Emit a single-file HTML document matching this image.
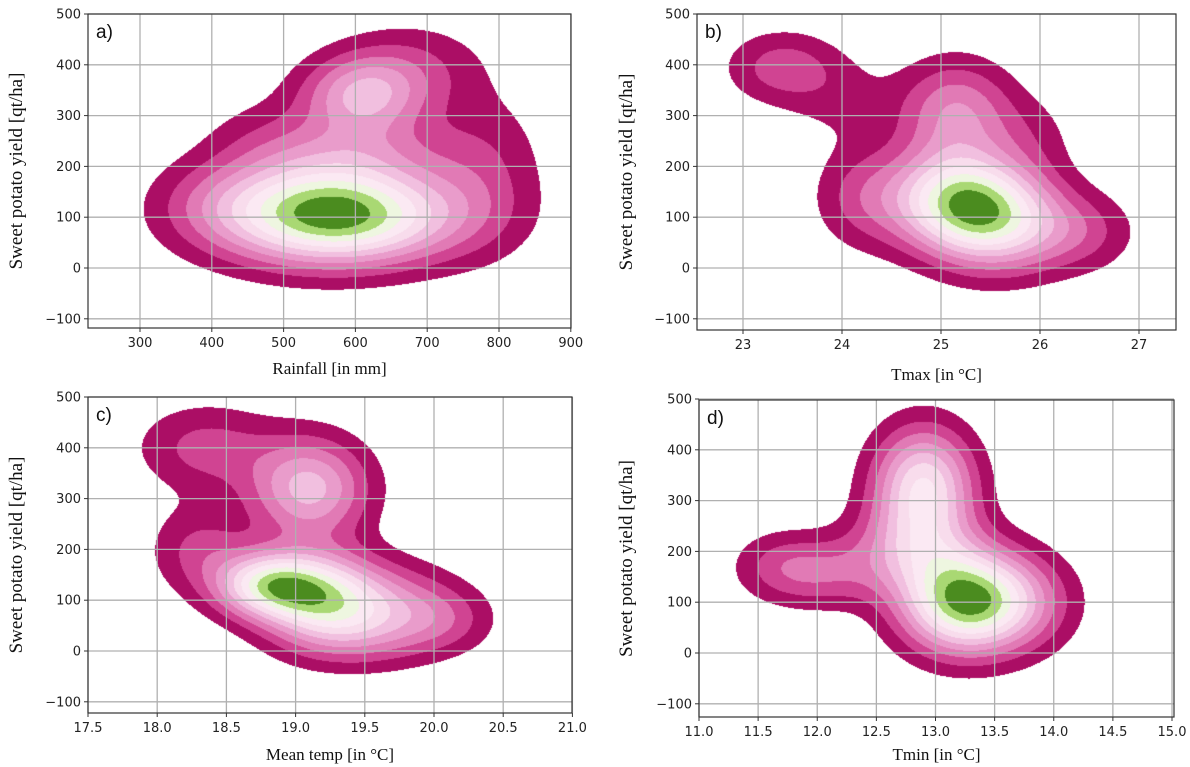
<!DOCTYPE html>
<html><head><meta charset="utf-8">
<style>
body{margin:0;background:#fff;width:1190px;height:767px;overflow:hidden;position:relative;font-family:"DejaVu Sans","Liberation Sans",sans-serif}
canvas{position:absolute}
svg{position:absolute;left:0;top:0}
</style></head><body>
<div id="wrap"></div>
<svg id="ov" width="1190" height="767"></svg>
<script>
// Panel a: Rainfall — KDE components
const aX=[530,620,400,780,610,600,680,470];
const aY=[110,100,130,200,340,230,400,260];
const aSX=[105,105,60,60,60,90,70,60];
const aSY=[70,65,60,110,55,50,60,60];
const aW=[1,0.8,0.15,0.25,0.72,0.35,0.25,0.15];
// Panel b: Tmax
const bX=[25.1,25.6,25.15,23.4,24.0,24.2,26.4,25.9];
const bY=[135,95,310,395,330,140,70,260];
const bSX=[0.45,0.45,0.4,0.4,0.4,0.35,0.4,0.35];
const bSY=[70,70,70,50,60,70,55,60];
const bW=[1,0.9,0.55,0.36,0.15,0.3,0.3,0.15];
// Panel c: Mean temp
const cX=[18.8,19.2,19.7,19.1,18.35,18.3,20.1,19.4];
const cY=[130,105,85,320,400,200,60,30];
const cSX=[0.27,0.3,0.35,0.3,0.35,0.25,0.25,0.4];
const cSY=[45,60,60,70,60,60,45,50];
const cW=[1,0.9,0.45,0.75,0.33,0.3,0.2,0.25];
// Panel d: Tmin
const dX=[13.15,13.55,12.9,12.8,12.0,11.65];
const dY=[105,100,330,210,160,180];
const dSX=[0.35,0.38,0.3,0.35,0.4,0.25];
const dSY=[72,68,80,60,50,45];
const dW=[1,0.8,1.0,0.45,0.42,0.13];
const yTicks=[500,400,300,200,100,0,-100];
const aTicks=[300,400,500,600,700,800,900];
const bTicks=[23,24,25,26,27];
const cTicks=[17.5,18.0,18.5,19.0,19.5,20.0,20.5,21.0];
const dTicks=[11.0,11.5,12.0,12.5,13.0,13.5,14.0,14.5,15.0];
const colors=["#ab0e65","#d04492","#e17ab5","#e99ccb","#f1bfdf","#f8dcec","#fbe9f3","#eef6e0","#a9d873","#4b8c1f"];

const panels=[
 {id:"a",L:88,R:571,T:14,B:328,x0:300,x0px:140,xs:0.718,y0:268,X:aX,Y:aY,SX:aSX,SY:aSY,W:aW,ticks:aTicks,fmt:v=>String(v),xl:"Rainfall [in mm]",xlY:374,ylX:22,lab:"a)"},
 {id:"b",L:697,R:1176,T:14,B:330,x0:23,x0px:743,xs:99,y0:268,X:bX,Y:bY,SX:bSX,SY:bSY,W:bW,ticks:bTicks,fmt:v=>String(v),xl:"Tmax [in \u00B0C]",xlY:380,ylX:632,lab:"b)"},
 {id:"c",L:88,R:572,T:397,B:713,x0:17.5,x0px:88,xs:138.4,y0:651,X:cX,Y:cY,SX:cSX,SY:cSY,W:cW,ticks:cTicks,fmt:v=>v.toFixed(1),xl:"Mean temp [in \u00B0C]",xlY:760,ylX:22,lab:"c)"},
 {id:"d",L:699,R:1174,T:400,B:717,x0:11,x0px:699,xs:118.25,y0:653,X:dX,Y:dY,SX:dSX,SY:dSY,W:dW,ticks:dTicks,fmt:v=>v.toFixed(1),xl:"Tmin [in \u00B0C]",xlY:760,ylX:632,lab:"d)"}
];
const ys=0.508;
const NS="http://www.w3.org/2000/svg";
const ov=document.getElementById('ov');
const wrap=document.getElementById('wrap');
function mk(tag,attrs,parent){const e=document.createElementNS(NS,tag);for(const k in attrs)e.setAttribute(k,attrs[k]);(parent||ov).appendChild(e);return e;}

panels.forEach(p=>{
  const xp=v=>p.x0px+(v-p.x0)*p.xs;
  const yp=v=>p.y0-v*ys;
  const xv=px=>p.x0+(px-p.x0px)/p.xs;
  const yv=py=>(p.y0-py)/ys;
  const w=p.R-p.L,h=p.B-p.T;
  const cv=document.createElement('canvas');
  cv.width=w;cv.height=h;cv.style.left=p.L+'px';cv.style.top=p.T+'px';
  
  
  wrap.appendChild(cv);
  const ctx=cv.getContext('2d');
  const dens=new Float32Array(w*h);let mx=0;
  for(let j=0;j<h;j++){const yy=yv(p.T+j+0.5);
    for(let i=0;i<w;i++){const xx=xv(p.L+i+0.5);let s=0;
      for(let k=0;k<p.X.length;k++){const dx=(xx-p.X[k])/p.SX[k],dy=(yy-p.Y[k])/p.SY[k];s+=p.W[k]*Math.exp(-0.5*(dx*dx+dy*dy));}
      dens[j*w+i]=s;if(s>mx)mx=s;}}
  const img=ctx.createImageData(w,h);
  const rgb=colors.map(c=>[parseInt(c.substr(1,2),16),parseInt(c.substr(3,2),16),parseInt(c.substr(5,2),16)]);
  for(let n=0;n<w*h;n++){const v=dens[n]/mx;const lvl=Math.floor(v*11)-1;
    if(lvl>=0){const c=rgb[Math.min(lvl,9)];img.data[n*4]=c[0];img.data[n*4+1]=c[1];img.data[n*4+2]=c[2];img.data[n*4+3]=255;}}
  ctx.putImageData(img,0,0);
  const g=mk('g',{});
  
  
  p.ticks.forEach(t=>{const x=xp(t);if(x>=p.L-0.5&&x<=p.R+0.5){
    mk('line',{x1:x,x2:x,y1:p.T,y2:p.B,stroke:'#b0b0b0','stroke-width':1.3},g);
    mk('line',{x1:x,x2:x,y1:p.B,y2:p.B+4,stroke:'#333','stroke-width':1});
    const tx=mk('text',{x:x,y:p.B+19,'font-size':13,'text-anchor':'middle',fill:'#222'});
    tx.textContent=p.fmt(t);
    
    }});
  yTicks.forEach(t=>{const y=yp(t);
    mk('line',{x1:p.L,x2:p.R,y1:y,y2:y,stroke:'#b0b0b0','stroke-width':1.3},g);
    mk('line',{x1:p.L-4,x2:p.L,y1:y,y2:y,stroke:'#333','stroke-width':1});
    const tx=mk('text',{x:p.L-7,y:y+4.5,'font-size':13,'text-anchor':'end',fill:'#222'});
    tx.textContent=String(t).replace('-','\u2212');
    
    });
  const fr=mk('rect',{x:p.L,y:p.T,width:w,height:h,fill:'none',stroke:'#333','stroke-width':1.2});
  
  
  const xl=mk('text',{x:(p.L+p.R)/2,y:p.xlY,'font-size':17,'text-anchor':'middle','font-family':'"Liberation Serif",serif',fill:'#111'});
  xl.textContent=p.xl;
  
  
  const yc=(p.T+p.B)/2;
  const yl=mk('text',{x:p.ylX,y:yc,'font-size':19,'text-anchor':'middle','font-family':'"Liberation Serif",serif',fill:'#111',transform:'rotate(-90 '+p.ylX+' '+yc+')'});
  yl.textContent='Sweet potato yield [qt/ha]';
  
  
  const lb=mk('text',{x:p.L+8,y:p.T+24,'font-size':19,'font-family':'"Liberation Sans",sans-serif',fill:'#111'});
  lb.textContent=p.lab;
  
  
});
</script>
</body></html>
